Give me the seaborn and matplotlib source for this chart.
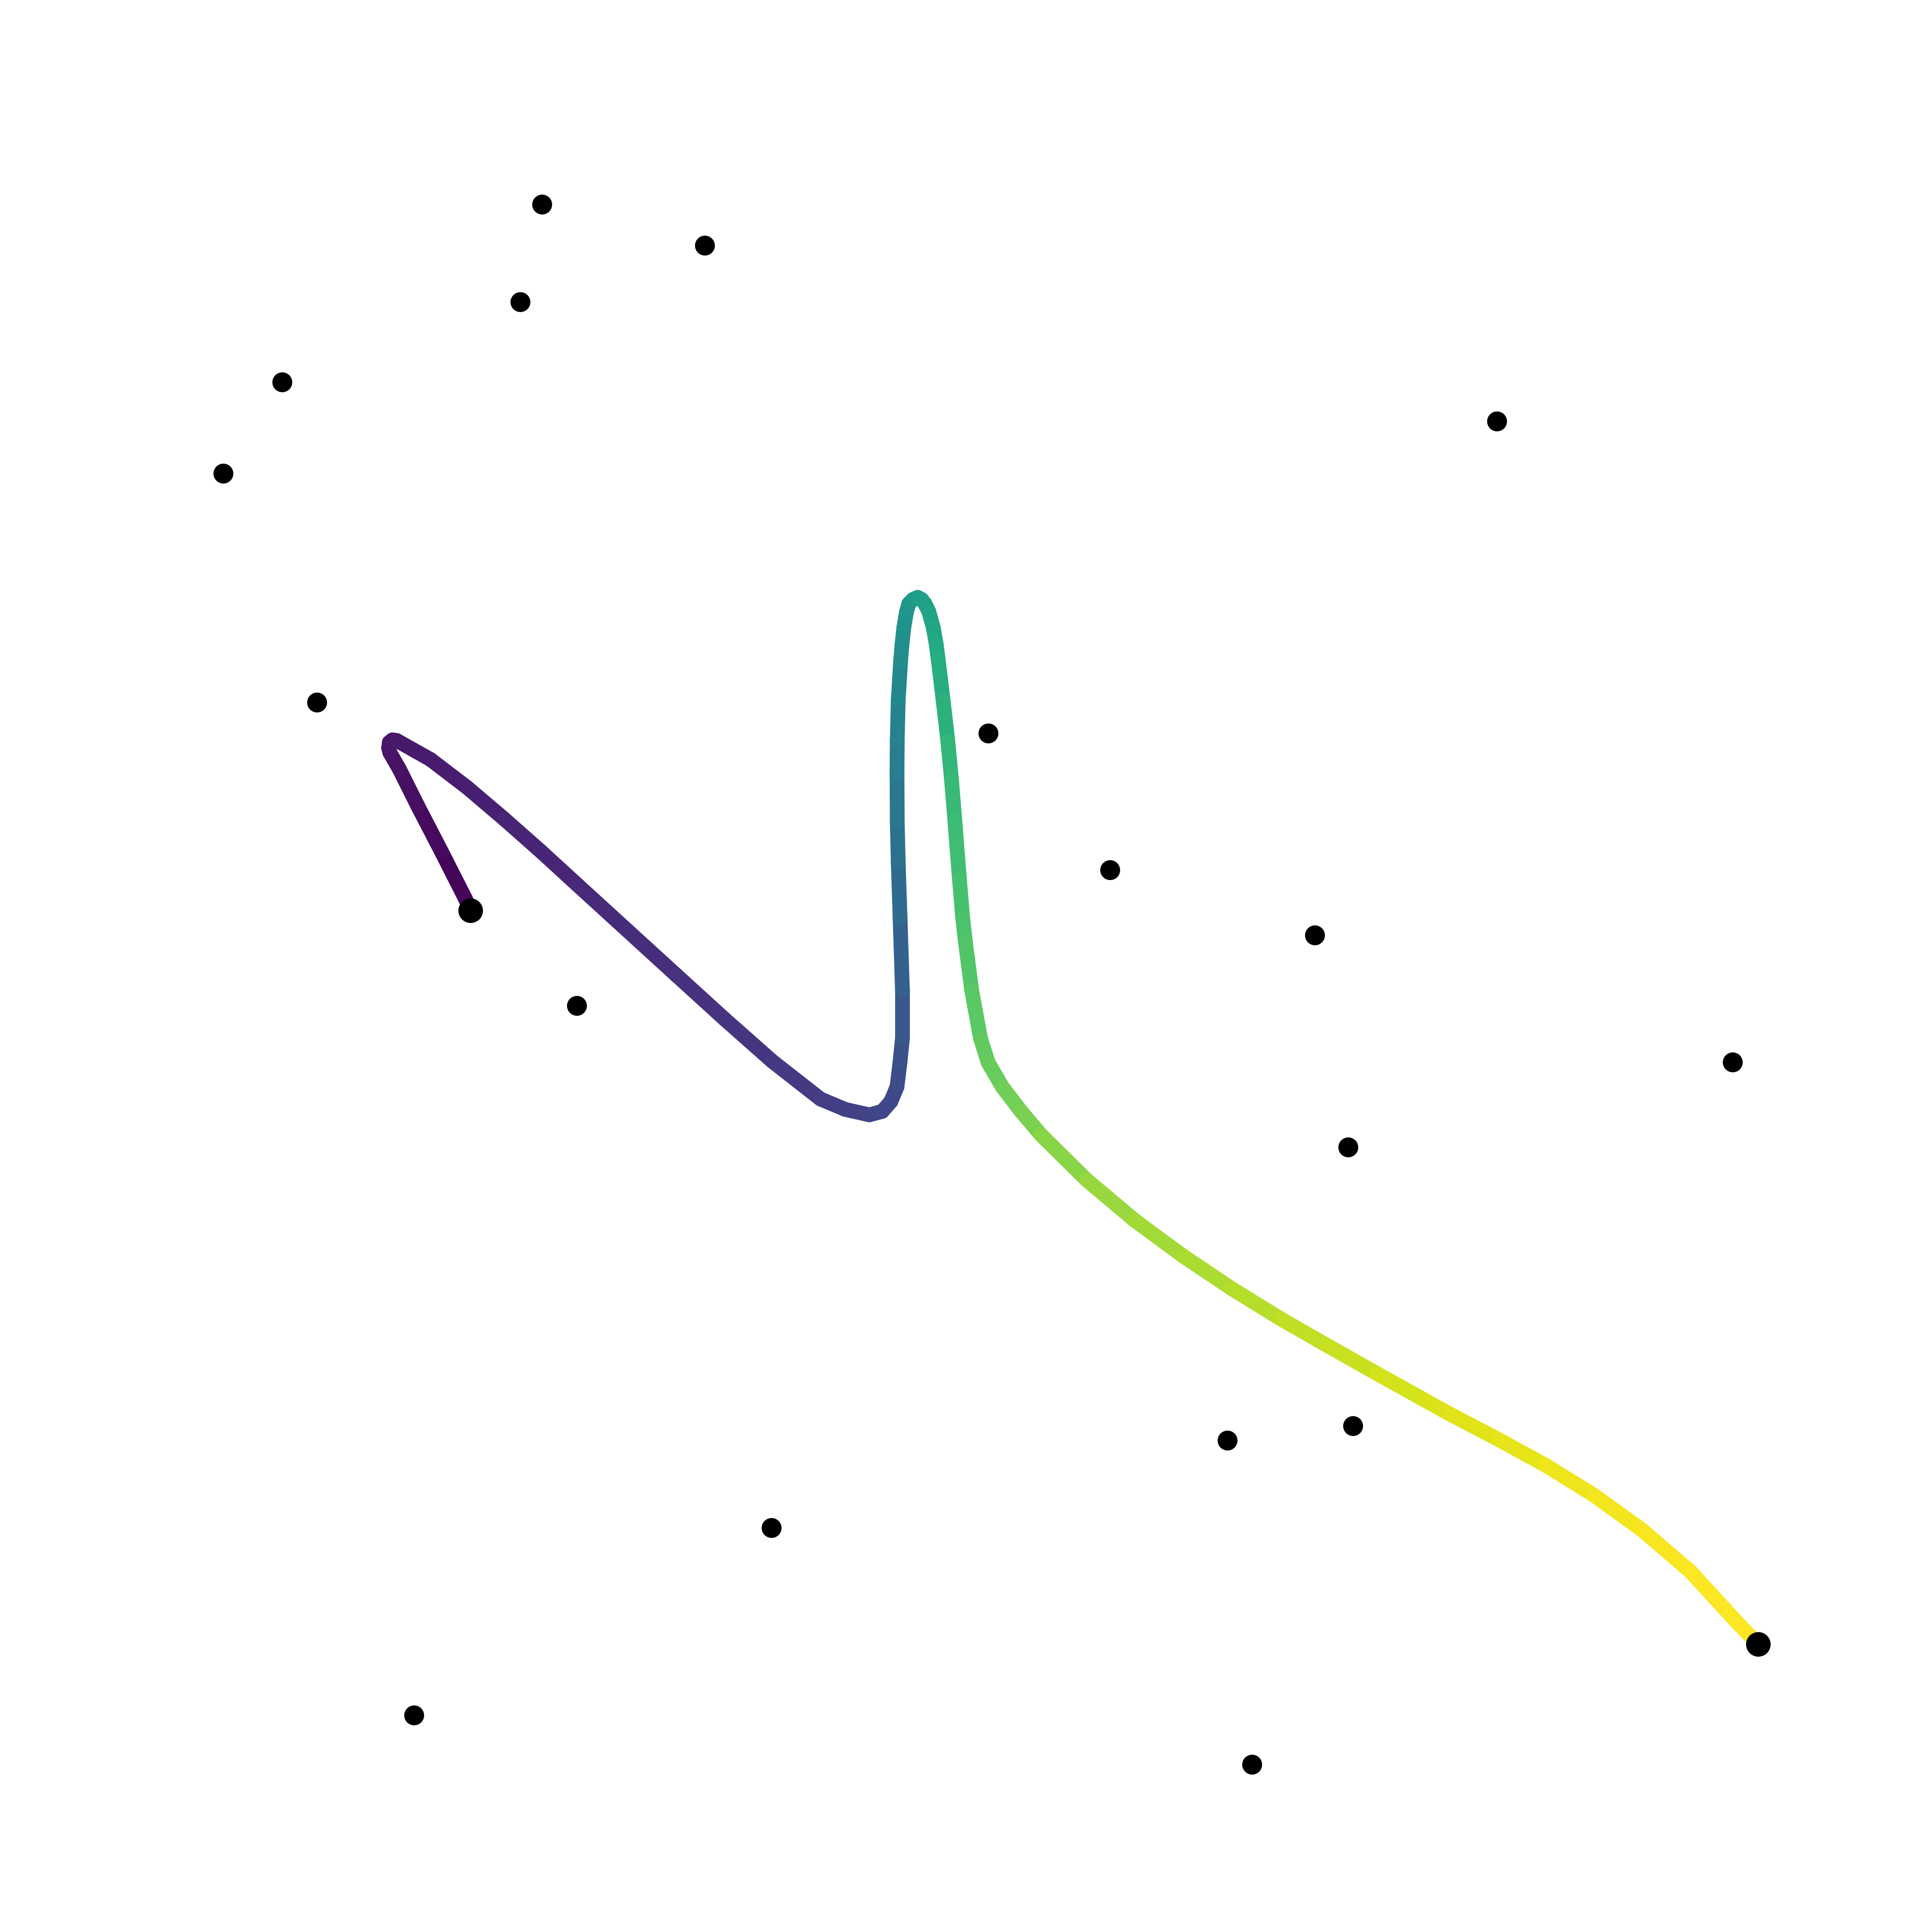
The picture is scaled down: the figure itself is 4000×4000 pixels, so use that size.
import numpy as np
import pandas as pd
import seaborn as sns
import matplotlib.pyplot as plt
from matplotlib.collections import LineCollection

sns.set_theme(style="white")

# scattered points (x, y in picture units, y grows downward)
pts_x = [440, 572, 422, 229, 181, 1215, 257, 802, 901, 1067, 468, 1406,
         1094, 996, 1098, 626, 336, 1016]
pts_y = [166, 199, 245, 310, 384, 342, 570, 595, 706, 759, 816, 862,
         931, 1169, 1157, 1240, 1392, 1432]

# start / end of the path
ends_x = [381.8, 1427]
ends_y = [739, 1334.4]

# path, with its progress value t (colour)
path_x = [381.8, 378, 358.4, 339, 324, 316.5, 315.4, 316, 318.5, 322,
          349.4, 379, 409, 439, 469, 509, 549, 588, 627, 666,
          686, 705.6, 716, 723, 728, 730.4, 732.4, 732.4, 730.5, 729,
          728.2, 728, 728.2, 729, 731, 732.1, 733.5, 735.7, 737.6, 741,
          744.8, 748, 750.7, 753.9, 757.5, 759.8, 761.5, 765.4, 769.2, 772.3,
          775, 776.5, 778.8, 781.3, 783.5, 788.6, 795.8, 802, 813.4, 828.4,
          844.8, 882, 921, 960.4, 999.6, 1038.8, 1078, 1117, 1156.4, 1176,
          1215, 1254.4, 1293.6, 1332.8, 1372, 1411, 1425]
path_y = [739, 730, 691.4, 654, 624, 611, 607, 602.5, 600.5, 601,
          616.4, 639, 664.5, 691, 718.5, 755, 791.5, 827, 861.5, 892,
          900.4, 904.8, 902, 894, 882, 862.4, 842.8, 803.6, 745, 700,
          666.4, 627, 601, 568, 535.8, 522.7, 509.6, 496.6, 490, 486.5,
          484.8, 486.5, 490, 496.6, 509.6, 522.7, 535.8, 568, 601, 633.5,
          666.4, 686, 715, 745, 764.4, 803.6, 842.8, 862.4, 882, 901.6,
          921, 957.7, 990.5, 1019.5, 1045.8, 1070, 1092.5, 1114.5, 1136.4, 1147.3,
          1167.7, 1189.2, 1213.5, 1241.8, 1275.5, 1318, 1332.5]
path_t = [0.0, 0.005, 0.02, 0.035, 0.045, 0.05, 0.053, 0.056, 0.059, 0.062,
          0.072, 0.083, 0.093, 0.103, 0.112, 0.125, 0.137, 0.149, 0.162, 0.178,
          0.188, 0.2, 0.207, 0.215, 0.225, 0.24, 0.255, 0.285, 0.33, 0.36,
          0.385, 0.41, 0.43, 0.455, 0.48, 0.49, 0.5, 0.515, 0.525, 0.537,
          0.55, 0.56, 0.568, 0.578, 0.59, 0.6, 0.61, 0.63, 0.65, 0.665,
          0.68, 0.69, 0.70, 0.71, 0.72, 0.735, 0.752, 0.762, 0.774, 0.79,
          0.81, 0.835, 0.853, 0.867, 0.881, 0.895, 0.91, 0.925, 0.94, 0.946,
          0.958, 0.968, 0.978, 0.986, 0.993, 0.998, 1.0]

fig = plt.figure(figsize=(10, 10), dpi=400)
ax = fig.add_axes([0, 0, 1, 1])

# path coloured along its progress
xy = np.column_stack([path_x, path_y])
segs = np.stack([xy[:-1], xy[1:]], axis=1)
t = np.asarray(path_t)
lc = LineCollection(segs, cmap="viridis", linewidths=5.5, capstyle="round",
                    joinstyle="round", zorder=2)
lc.set_array((t[:-1] + t[1:]) / 2)
lc.set_clim(0, 1)
ax.add_collection(lc)

df = pd.DataFrame({"x": pts_x, "y": pts_y})
sns.scatterplot(data=df, x="x", y="y", color="black", s=55, linewidth=0,
                ax=ax, zorder=3)
ends = pd.DataFrame({"x": ends_x, "y": ends_y})
sns.scatterplot(data=ends, x="x", y="y", color="black", s=84, linewidth=0,
                ax=ax, zorder=4)

ax.set_xlim(0, 1568)
ax.set_ylim(1568, 0)
ax.set_axis_off()

fig.savefig("out.png", dpi=400, facecolor="white")
